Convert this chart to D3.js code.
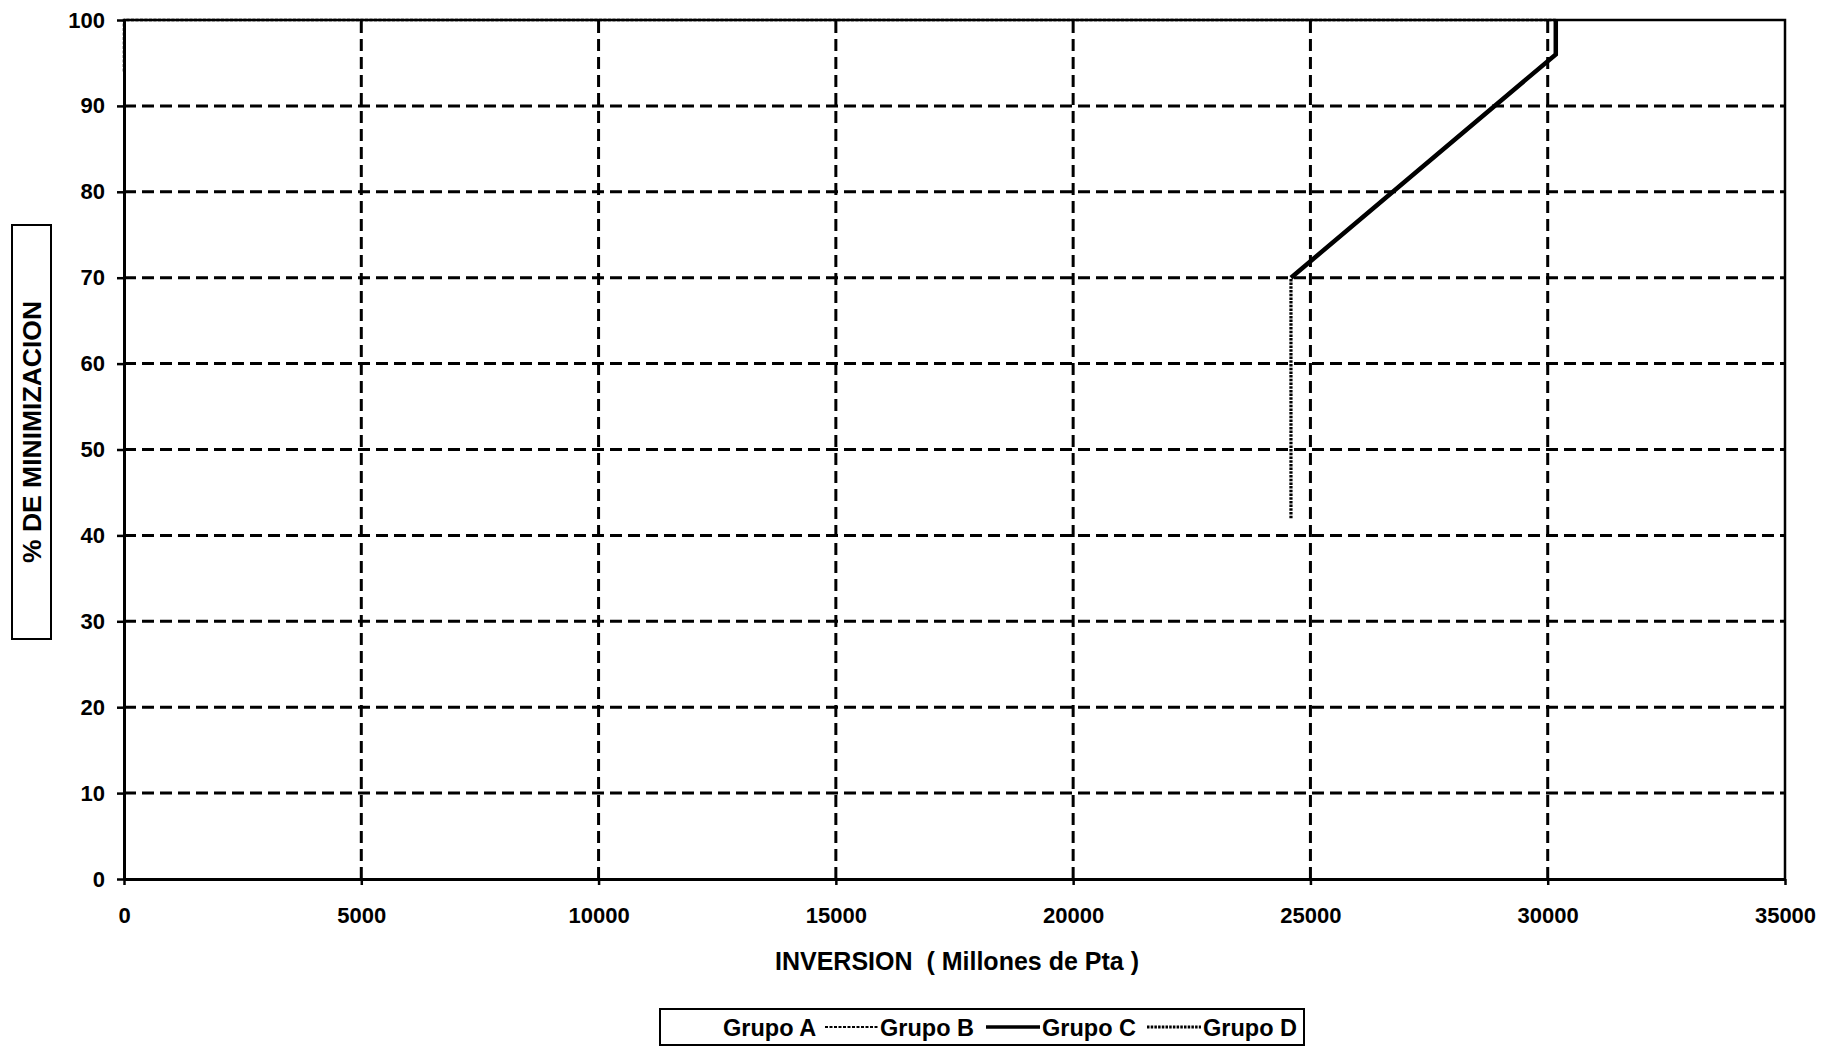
<!DOCTYPE html>
<html>
<head>
<meta charset="utf-8">
<script src="https://cdn.jsdelivr.net/npm/d3@7/dist/d3.min.js"></script>
<style>
  html, body { margin: 0; padding: 0; background: #fff; }
  svg { display: block; font-family: "Liberation Sans", Arial, sans-serif; }
</style>
</head>
<body>
<svg id="chart" width="1835" height="1048"></svg>
<script>
// ---- Data ----
const xTicks = [0, 5000, 10000, 15000, 20000, 25000, 30000, 35000];
const yTicks = [0, 10, 20, 30, 40, 50, 60, 70, 80, 90, 100];
const seriesNames = ["Grupo A", "Grupo B", "Grupo C", "Grupo D"];
// each series: [inversion (Millones de Pta), % de minimizacion]
const grupoA = [];
const grupoB = [[0, 94], [0, 100], [30170, 100]];
const grupoC = [[24590, 70], [30170, 96], [30170, 100]];
const grupoD = [[24590, 42], [24590, 70]];
const xTitle = "INVERSION  ( Millones de Pta )";
const yTitle = "% DE MINIMIZACION";

// ---- Layout ----
const svg = d3.select("#chart");
const W = 1835, H = 1048;
const L = 124, R = 1785, T = 20, B = 879;
svg.append("rect").attr("width", W).attr("height", H).attr("fill", "#fff");

const x = d3.scaleLinear().domain([0, 35000]).range([L, R]);
const y = d3.scaleLinear().domain([0, 100]).range([B, T]);

// grid
const grid = svg.append("g").attr("stroke", "#000").attr("stroke-width", 3)
  .attr("stroke-dasharray", "12,6").attr("fill", "none");
grid.selectAll("line.h").data(yTicks.filter(d => d > 0 && d < 100)).join("line")
  .attr("class", "h").attr("x1", L).attr("x2", R)
  .attr("y1", d => y(d)).attr("y2", d => y(d));
grid.selectAll("line.v").data(xTicks.filter(d => d > 0 && d < 35000)).join("line")
  .attr("class", "v").attr("y1", B).attr("y2", T)
  .attr("x1", d => x(d)).attr("x2", d => x(d));

// border (top & right)
svg.append("path").attr("d", `M${L},${T}H${R}V${B}`)
  .attr("fill", "none").attr("stroke", "#000").attr("stroke-width", 2.5);

// series
const line = d3.line().x(d => x(d[0])).y(d => y(d[1]));
const styles = {
  "Grupo A": {stroke: "none", width: 0, dash: null, lw: 0},
  "Grupo B": {stroke: "#000", width: 2.5, dash: "3,1.5", lw: 1.8},
  "Grupo C": {stroke: "#000", width: 4.5, dash: null, lw: 3.5},
  "Grupo D": {stroke: "#000", width: 3.2, dash: "2.5,1.2", lw: 3}
};
const seriesData = [grupoA, grupoB, grupoC, grupoD];
seriesNames.forEach((n, i) => {
  if (!seriesData[i].length) return;
  const s = styles[n];
  svg.append("path").datum(seriesData[i]).attr("d", line)
    .attr("fill", "none").attr("stroke", s.stroke).attr("stroke-width", s.width)
    .attr("stroke-linejoin", "miter")
    .attr("stroke-dasharray", s.dash);
});

// axes
const yAxis = svg.append("g").attr("transform", `translate(${L},0)`)
  .call(d3.axisLeft(y).tickValues(yTicks).tickSize(7).tickSizeOuter(0).tickPadding(12));
const xAxis = svg.append("g").attr("transform", `translate(0,${B})`)
  .call(d3.axisBottom(x).tickValues(xTicks).tickSize(6).tickSizeOuter(0).tickPadding(22)
    .tickFormat(d3.format("d")));
[yAxis, xAxis].forEach(g => {
  g.select(".domain").attr("stroke", "#000").attr("stroke-width", 3);
  g.selectAll(".tick line").attr("stroke", "#000").attr("stroke-width", 2.5);
  g.selectAll(".tick text").attr("fill", "#000").attr("font-size", 22)
    .attr("font-weight", "bold").attr("font-family", "Liberation Sans, Arial, sans-serif");
});

// x title
svg.append("text").attr("x", 957).attr("y", 970).attr("text-anchor", "middle")
  .attr("font-size", 25).attr("font-weight", "bold").attr("xml:space", "preserve")
  .style("white-space", "pre").text(xTitle);

// y title box
svg.append("rect").attr("x", 12).attr("y", 225).attr("width", 39).attr("height", 414)
  .attr("fill", "#fff").attr("stroke", "#000").attr("stroke-width", 2);
svg.append("text").attr("transform", "translate(41,432) rotate(-90)")
  .attr("text-anchor", "middle").attr("font-size", 26.5).attr("font-weight", "bold")
  .text(yTitle);

// legend
const lg = svg.append("g");
lg.append("rect").attr("x", 660).attr("y", 1009).attr("width", 644).attr("height", 36)
  .attr("fill", "#fff").attr("stroke", "#000").attr("stroke-width", 2);
const legendPos = [
  {sym: [670, 720], tx: 723},
  {sym: [825, 878], tx: 880},
  {sym: [986, 1040], tx: 1042},
  {sym: [1147, 1201], tx: 1203}
];
seriesNames.forEach((n, i) => {
  const s = styles[n], p = legendPos[i];
  if (s.stroke !== "none") {
    lg.append("line").attr("x1", p.sym[0]).attr("x2", p.sym[1])
      .attr("y1", 1027).attr("y2", 1027)
      .attr("stroke", s.stroke).attr("stroke-width", s.lw)
      .attr("stroke-dasharray", s.dash);
  }
  lg.append("text").attr("x", p.tx).attr("y", 1036).attr("font-size", 23.5)
    .attr("font-weight", "bold").text(n);
});
</script>
</body>
</html>
